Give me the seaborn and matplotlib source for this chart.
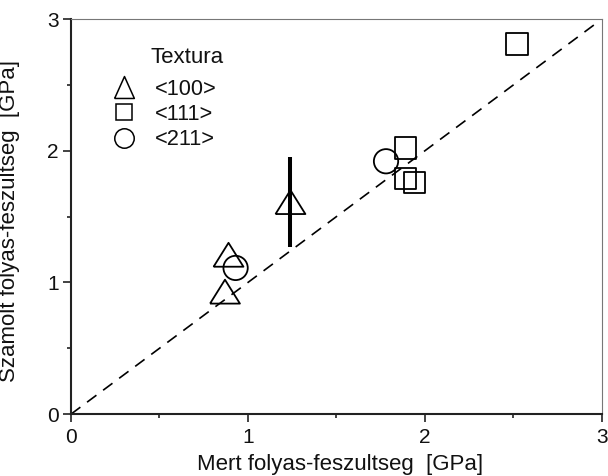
import numpy as np
import pandas as pd
import matplotlib
matplotlib.use("Agg")
import matplotlib.pyplot as plt
from matplotlib.lines import Line2D
from matplotlib.ticker import MultipleLocator
import seaborn as sns

# ---- data ----
tex100_x = [0.89, 0.87, 1.24]
tex100_y = [1.21, 0.93, 1.61]
tex100_err = [0.0, 0.0, 0.34]
tex111_x = [1.89, 1.89, 1.94, 2.52]
tex111_y = [2.02, 1.79, 1.76, 2.81]
tex211_x = [0.93, 1.78]
tex211_y = [1.11, 1.92]
labels = ["<100>", "<111>", "<211>"]
legend_title = "Textura"
ticks = [0, 1, 2, 3]

sns.set_theme(style="ticks")
plt.rcParams["font.family"] = ["Liberation Sans", "DejaVu Sans"]

fig = plt.figure(figsize=(6.08, 4.76), dpi=100)
ax = fig.add_axes([0.1168, 0.130, 0.990 - 0.1168, 0.960 - 0.130])

# custom triangle (wider than tall) for the plot, taller one for the legend
tri = [(-1.0, -0.8), (1.0, -0.8), (0.0, 0.8), (-1.0, -0.8)]
tri_leg = [(-0.9, -1.0), (0.9, -1.0), (0.0, 1.0), (-0.9, -1.0)]

# diagonal reference
ax.plot([0, 2.96], [0, 2.96], color="black", lw=1.2, dashes=(7, 5), zorder=1)

# error bar
ax.errorbar(tex100_x, tex100_y, yerr=tex100_err, fmt="none", ecolor="black",
            elinewidth=2.9, capsize=0, zorder=3)

df100 = pd.DataFrame({"x": tex100_x, "y": tex100_y})
df111 = pd.DataFrame({"x": tex111_x, "y": tex111_y})
df211 = pd.DataFrame({"x": tex211_x, "y": tex211_y})

common = dict(color="black", facecolor="none", edgecolor="black", linewidth=1.3,
              legend=False, zorder=4)
sns.scatterplot(data=df100, x="x", y="y", marker=tri, s=21.5**2, ax=ax, **common)
sns.scatterplot(data=df111, x="x", y="y", marker="s", s=15.5**2, ax=ax, **common)
sns.scatterplot(data=df211, x="x", y="y", marker="o", s=17.5**2, ax=ax, **common)

ax.set_xlim(0, 3)
ax.set_ylim(0, 3)
ax.xaxis.set_minor_locator(MultipleLocator(0.5))
ax.yaxis.set_minor_locator(MultipleLocator(0.5))
ax.set_xticks(ticks)
ax.set_yticks(ticks)
ax.set_xticklabels([str(t) for t in ticks])
ax.set_yticklabels([str(t) for t in ticks])

for side in ["left", "bottom"]:
    ax.spines[side].set_linewidth(1.5)
    ax.spines[side].set_color("#222222")
for side in ["top", "right"]:
    ax.spines[side].set_visible(True)
    ax.spines[side].set_linewidth(0.8)
    ax.spines[side].set_color("#777777")

ax.tick_params(which="both", direction="out", width=1.2, color="#222222",
               labelsize=15, labelcolor="#111111", top=False, right=False)
ax.tick_params(which="major", length=5.5)
ax.tick_params(which="minor", length=3)
ax.tick_params(axis="x", which="major", pad=4.5)
ax.tick_params(axis="y", which="major", pad=3.5)

ax.set_xlabel("Mert folyas-feszultseg  [GPa]", fontsize=16, color="#111111")
ax.set_ylabel("Szamolt folyas-feszultseg  [GPa]", fontsize=16, color="#111111")
ax.xaxis.set_label_coords(0.5075, -0.101)
ax.yaxis.set_label_coords(-0.097, 0.49)

handles = [
    Line2D([], [], ls="none", marker=tri_leg, markersize=15.8, mfc="none", mec="black", mew=1.1),
    Line2D([], [], ls="none", marker="s", markersize=12.2, mfc="none", mec="black", mew=1.1),
    Line2D([], [], ls="none", marker="o", markersize=14, mfc="none", mec="black", mew=1.1),
]
leg = ax.legend(handles, labels, loc="upper left",
                bbox_to_anchor=(0.0744, 0.849), frameon=False, fontsize=15.7,
                handletextpad=0.85, labelspacing=0.2, handlelength=1.2,
                borderaxespad=0, borderpad=0)
for t in leg.get_texts():
    t.set_color("#111111")
ax.text((150 - 71) / 531, (414 - 63) / 395, legend_title, transform=ax.transAxes,
        fontsize=16, color="#111111", ha="left", va="baseline")

fig.savefig("out.png", dpi=100)
